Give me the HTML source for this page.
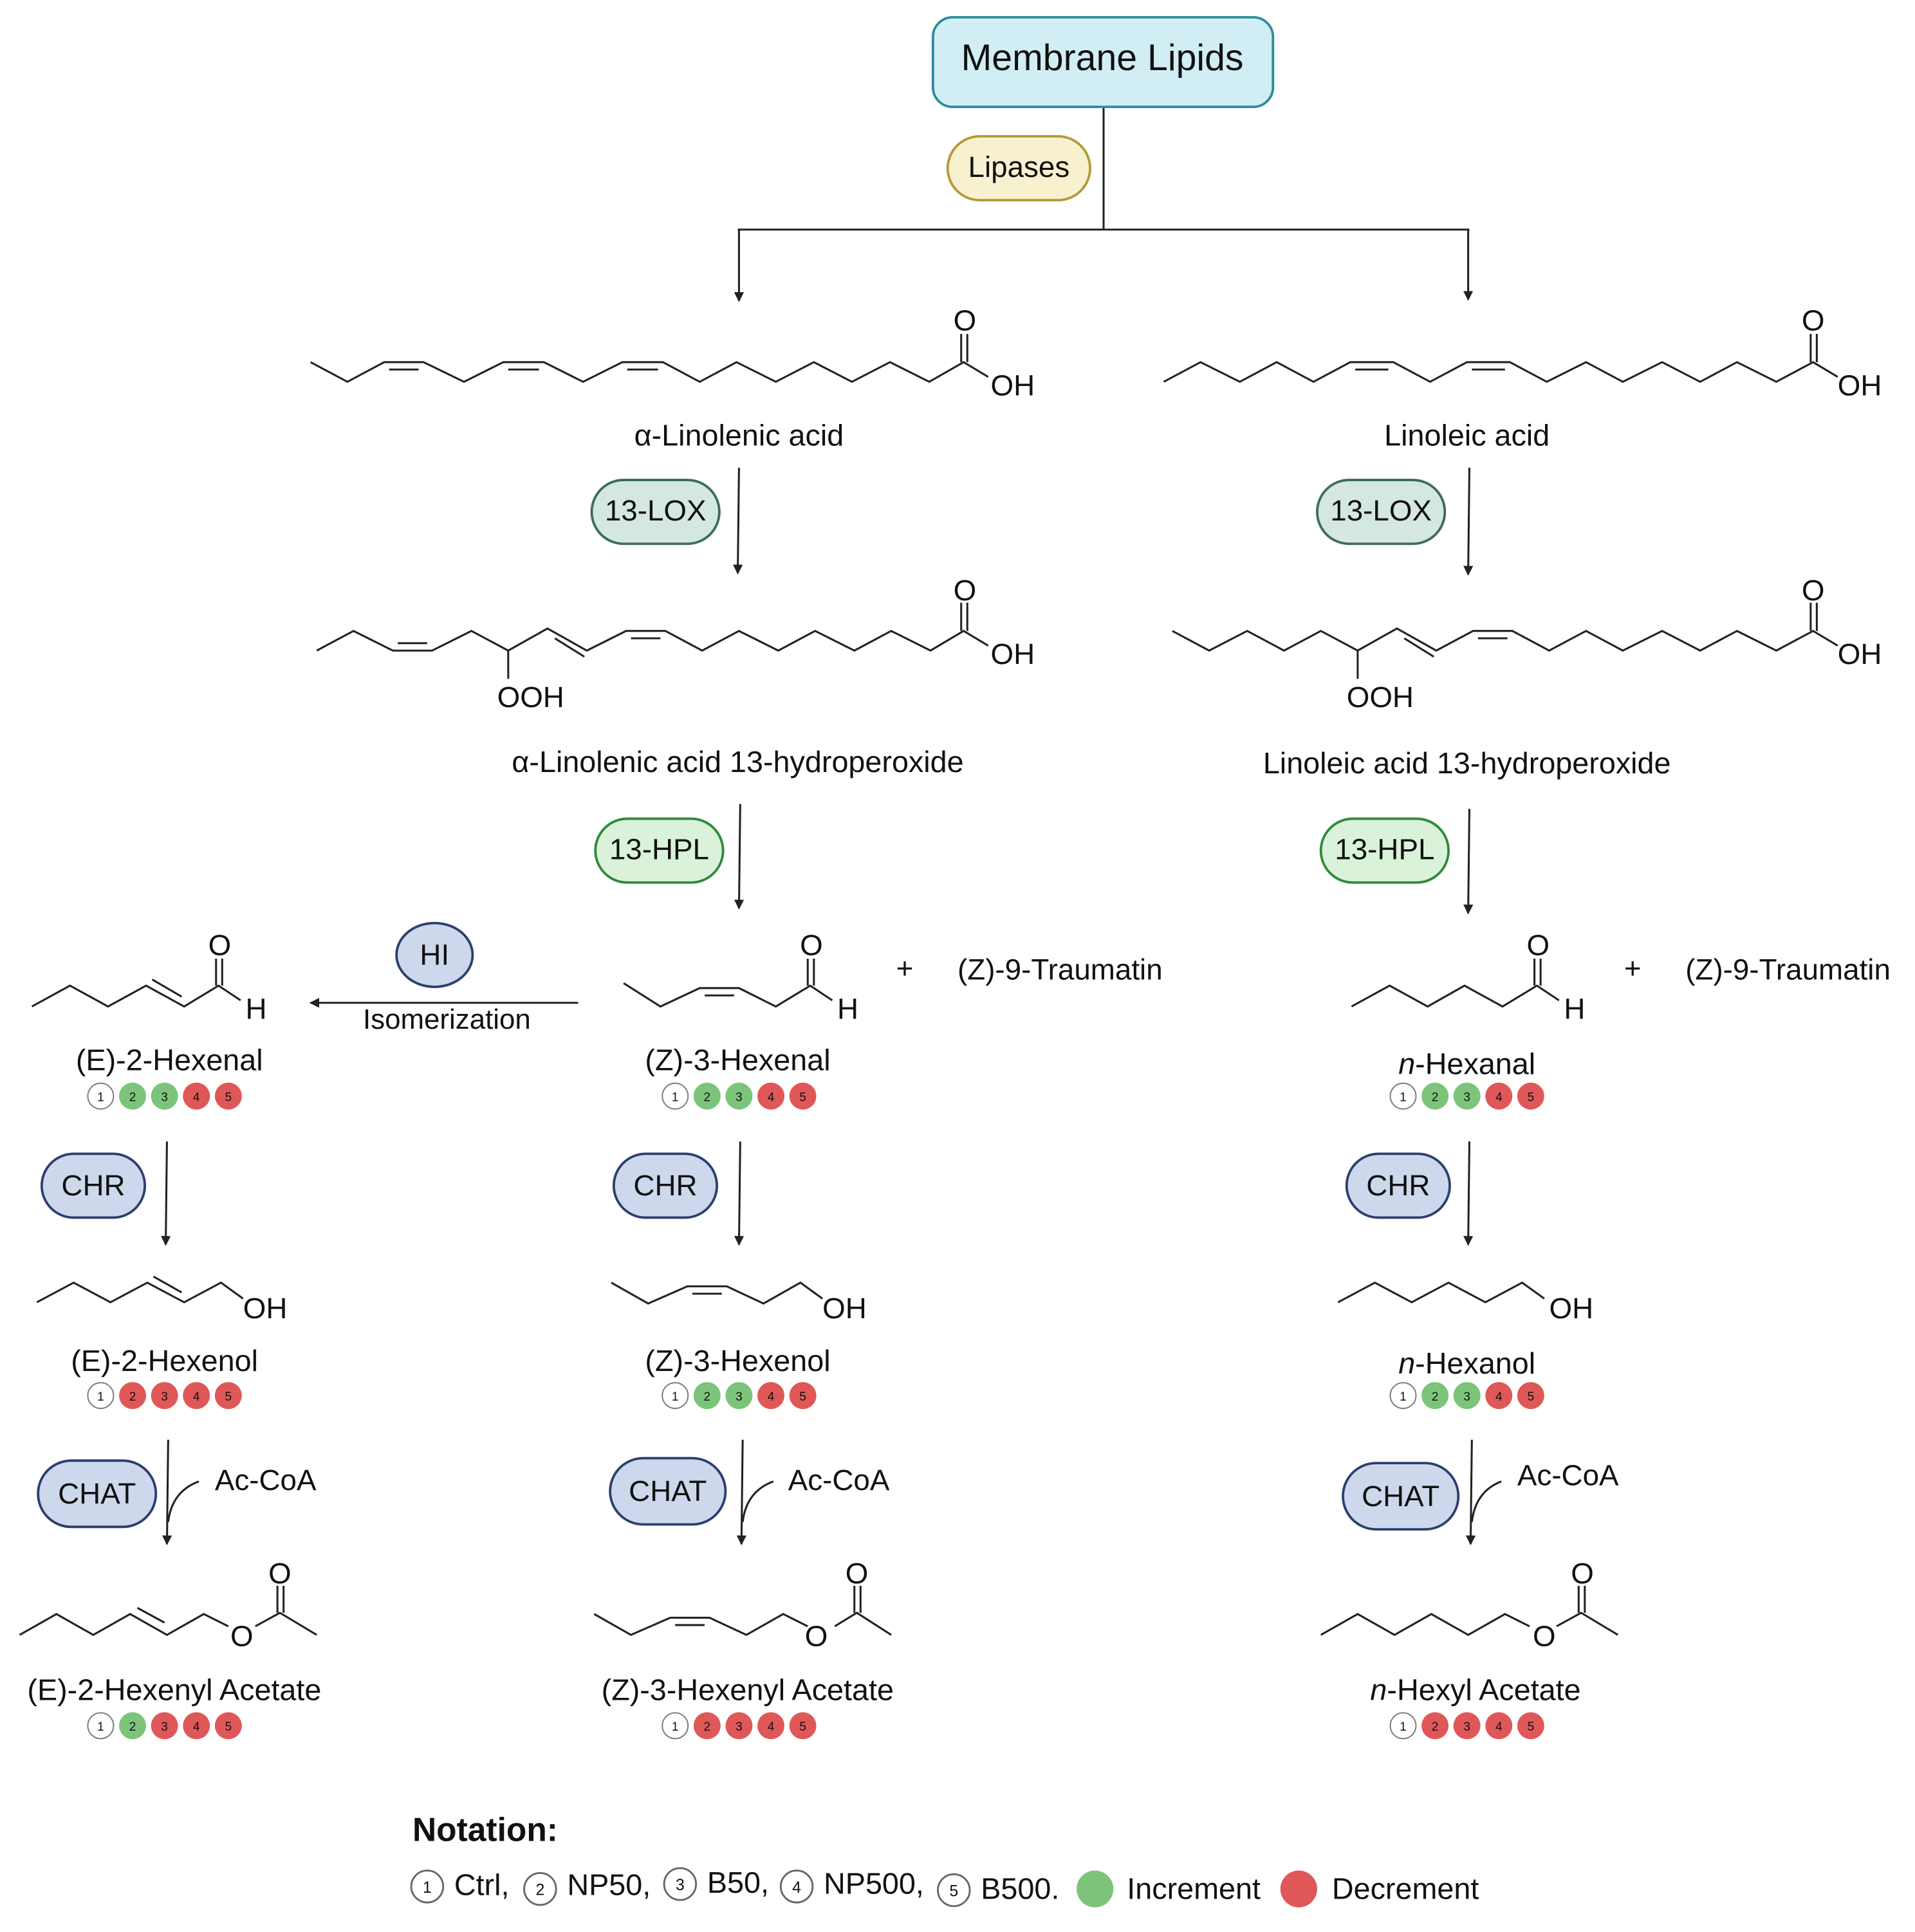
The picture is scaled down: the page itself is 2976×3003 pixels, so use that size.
<!DOCTYPE html>
<html><head><meta charset="utf-8"><style>html,body{margin:0;padding:0;background:#fff}svg{display:block}text{font-family:"Liberation Sans",Arial,sans-serif;fill:#111}</style></head>
<body>
<svg width="2976" height="3003" viewBox="0 0 1560 1574" xmlns="http://www.w3.org/2000/svg">
<defs>
<marker id="ah" markerWidth="8" markerHeight="8" refX="7" refY="4" orient="auto" markerUnits="userSpaceOnUse"><path d="M0,0 L8,4 L0,8 z" fill="#222"/></marker>
</defs>
<g stroke="#222" stroke-width="1.6" fill="none">
<line x1="899" y1="87" x2="899" y2="187"/>
<line x1="601" y1="187" x2="1197" y2="187"/>
<line x1="602" y1="187" x2="602" y2="245" marker-end="url(#ah)"/>
<line x1="1196" y1="187" x2="1196" y2="244" marker-end="url(#ah)"/>
<line x1="602" y1="381" x2="601" y2="467" marker-end="url(#ah)"/>
<line x1="1197" y1="381" x2="1196" y2="468" marker-end="url(#ah)"/>
<line x1="603" y1="655" x2="602" y2="740" marker-end="url(#ah)"/>
<line x1="1197" y1="659" x2="1196" y2="744" marker-end="url(#ah)"/>
<line x1="471" y1="817" x2="253" y2="817" marker-end="url(#ah)"/>
<line x1="136" y1="930" x2="135" y2="1014" marker-end="url(#ah)"/>
<line x1="603" y1="930" x2="602" y2="1014" marker-end="url(#ah)"/>
<line x1="1197" y1="930" x2="1196" y2="1014" marker-end="url(#ah)"/>
<line x1="137" y1="1173" x2="136" y2="1258" marker-end="url(#ah)"/>
<path d="M162,1207 Q140,1215 137,1240"/>
<line x1="605" y1="1173" x2="604" y2="1258" marker-end="url(#ah)"/>
<path d="M630,1207 Q608,1215 605,1240"/>
<line x1="1199" y1="1173" x2="1198" y2="1258" marker-end="url(#ah)"/>
<path d="M1223,1207 Q1202,1215 1199,1240"/>
</g>

<rect x="760" y="14" width="277" height="73" rx="16" fill="#d2eef5" stroke="#2d8c9c" stroke-width="2"/>
<text x="898" y="57" font-size="30" text-anchor="middle">Membrane Lipids</text>
<g stroke-width="2">
<rect x="772" y="111" width="116" height="52" rx="26" fill="#f7f1d0" stroke="#b39a35"/>
<rect x="482" y="391" width="104" height="52" rx="26" fill="#d5e7e1" stroke="#3d6b63"/>
<rect x="1073" y="391" width="104" height="52" rx="26" fill="#d5e7e1" stroke="#3d6b63"/>
<rect x="485" y="667" width="104" height="52" rx="26" fill="#daf2da" stroke="#2e8b3a"/>
<rect x="1076" y="667" width="104" height="52" rx="26" fill="#daf2da" stroke="#2e8b3a"/>
<ellipse cx="354" cy="778" rx="31" ry="26" fill="#cdd8ec" stroke="#2c3f6e"/>
<rect x="34" y="940" width="84" height="52" rx="26" fill="#cdd8ec" stroke="#2c3f6e"/>
<rect x="500" y="940" width="84" height="52" rx="26" fill="#cdd8ec" stroke="#2c3f6e"/>
<rect x="1097" y="940" width="84" height="52" rx="26" fill="#cdd8ec" stroke="#2c3f6e"/>
<rect x="31" y="1190" width="96" height="54" rx="27" fill="#cdd8ec" stroke="#2c3f6e"/>
<rect x="497" y="1188" width="94" height="54" rx="27" fill="#cdd8ec" stroke="#2c3f6e"/>
<rect x="1094" y="1192" width="94" height="54" rx="27" fill="#cdd8ec" stroke="#2c3f6e"/>
</g>
<g font-size="24" text-anchor="middle">
<text x="830" y="144">Lipases</text>
<text x="534" y="424">13-LOX</text>
<text x="1125" y="424">13-LOX</text>
<text x="537" y="700">13-HPL</text>
<text x="1128" y="700">13-HPL</text>
<text x="354" y="786">HI</text>
<text x="76" y="974">CHR</text>
<text x="542" y="974">CHR</text>
<text x="1139" y="974">CHR</text>
<text x="79" y="1225">CHAT</text>
<text x="544" y="1223">CHAT</text>
<text x="1141" y="1227">CHAT</text>
</g>

<g stroke="#222" stroke-width="1.6" fill="none">
<polyline points="253,295 283,311 313,295 345,295 378,311 410,295 443,295 475,311 507,295 540,295 570,311 600,295 632,311 663,295 694,311 725,295 757,311 785,295 805,307"/>
<line x1="317" y1="301" x2="341" y2="301"/><line x1="414" y1="301" x2="439" y2="301"/><line x1="511" y1="301" x2="536" y2="301"/>
<line x1="783" y1="295" x2="783" y2="272"/><line x1="788" y1="295" x2="788" y2="272"/>
<polyline points="948,311 978,295 1010,311 1040,295 1070,311 1100,295 1135,295 1165,311 1195,295 1230,295 1260,311 1292,295 1322,311 1354,295 1385,311 1415,295 1447,311 1477,295 1497,307"/>
<line x1="1104" y1="301" x2="1131" y2="301"/><line x1="1199" y1="301" x2="1226" y2="301"/>
<line x1="1475" y1="295" x2="1475" y2="272"/><line x1="1480" y1="295" x2="1480" y2="272"/>
<polyline points="258,530 288,514 320,530 352,530 384,514 414,530 446,512 478,530 510,514 542,514 572,530 602,514 634,530 664,514 696,530 726,514 758,530 785,514 805,526"/>
<line x1="324" y1="524" x2="348" y2="524"/><line x1="452" y1="520" x2="476" y2="535"/><line x1="514" y1="520" x2="538" y2="520"/>
<line x1="414" y1="530" x2="414" y2="553"/>
<line x1="783" y1="514" x2="783" y2="491"/><line x1="788" y1="514" x2="788" y2="491"/>
<polyline points="955,514 985,530 1016,514 1046,530 1076,514 1106,530 1138,512 1170,530 1200,514 1232,514 1262,530 1292,514 1322,530 1354,514 1385,530 1415,514 1447,530 1477,514 1497,526"/>
<line x1="1144" y1="520" x2="1168" y2="535"/><line x1="1204" y1="520" x2="1228" y2="520"/>
<line x1="1106" y1="530" x2="1106" y2="553"/>
<line x1="1475" y1="514" x2="1475" y2="491"/><line x1="1480" y1="514" x2="1480" y2="491"/>
<polyline points="26,820 57,803 88,820 119,803 150,820 178,803 196,815"/>
<line x1="124" y1="798" x2="148" y2="812"/>
<line x1="176" y1="803" x2="176" y2="781"/><line x1="181" y1="803" x2="181" y2="781"/>
<polyline points="508,801 538,820 570,805 602,805 632,820 660,803 678,815"/>
<line x1="574" y1="811" x2="598" y2="811"/>
<line x1="658" y1="803" x2="658" y2="781"/><line x1="663" y1="803" x2="663" y2="781"/>
<polyline points="1101,820 1132,803 1163,820 1193,803 1224,820 1252,803 1270,815"/>
<line x1="1250" y1="803" x2="1250" y2="781"/><line x1="1255" y1="803" x2="1255" y2="781"/>
<polyline points="30,1061 60,1045 90,1061 120,1045 150,1061 180,1045 198,1058"/>
<line x1="125" y1="1040" x2="148" y2="1053"/>
<polyline points="498,1045 528,1062 560,1048 592,1048 622,1062 652,1045 670,1058"/>
<line x1="564" y1="1054" x2="588" y2="1054"/>
<polyline points="1090,1061 1120,1045 1150,1061 1180,1045 1210,1061 1240,1045 1258,1058"/>
<polyline points="16,1332 46,1315 76,1332 106,1315 136,1332 166,1315 186,1325"/>
<line x1="112" y1="1310" x2="134" y2="1322"/>
<polyline points="208,1325 228,1314 258,1332"/>
<line x1="226" y1="1314" x2="226" y2="1292"/><line x1="231" y1="1314" x2="231" y2="1292"/>
<polyline points="484,1315 514,1332 546,1318 578,1318 608,1332 638,1315 658,1325"/>
<line x1="550" y1="1324" x2="574" y2="1324"/>
<polyline points="680,1325 698,1314 726,1332"/>
<line x1="696" y1="1314" x2="696" y2="1292"/><line x1="701" y1="1314" x2="701" y2="1292"/>
<polyline points="1076,1332 1106,1315 1136,1332 1166,1315 1196,1332 1226,1315 1246,1325"/>
<polyline points="1268,1325 1288,1314 1318,1332"/>
<line x1="1286" y1="1314" x2="1286" y2="1292"/><line x1="1291" y1="1314" x2="1291" y2="1292"/>
</g>

<g font-size="24">
<text x="786" y="269" text-anchor="middle">O</text><text x="807" y="322">OH</text>
<text x="1477" y="269" text-anchor="middle">O</text><text x="1497" y="322">OH</text>
<text x="786" y="489" text-anchor="middle">O</text><text x="807" y="541">OH</text>
<text x="405" y="576">OOH</text>
<text x="1477" y="489" text-anchor="middle">O</text><text x="1497" y="541">OH</text>
<text x="1097" y="576">OOH</text>
<text x="179" y="778" text-anchor="middle">O</text><text x="200" y="830">H</text>
<text x="661" y="778" text-anchor="middle">O</text><text x="682" y="830">H</text>
<text x="1253" y="778" text-anchor="middle">O</text><text x="1274" y="830">H</text>
<text x="198" y="1074">OH</text><text x="670" y="1074">OH</text><text x="1262" y="1074">OH</text>
<text x="228" y="1290" text-anchor="middle">O</text><text x="197" y="1341" text-anchor="middle">O</text>
<text x="698" y="1290" text-anchor="middle">O</text><text x="665" y="1341" text-anchor="middle">O</text>
<text x="1289" y="1290" text-anchor="middle">O</text><text x="1258" y="1341" text-anchor="middle">O</text>
<text x="730" y="797">+</text><text x="780" y="798">(Z)-9-Traumatin</text>
<text x="1323" y="797">+</text><text x="1373" y="798">(Z)-9-Traumatin</text>
<text x="175" y="1214">Ac-CoA</text><text x="642" y="1214">Ac-CoA</text><text x="1236" y="1210">Ac-CoA</text>
<text x="364" y="838" text-anchor="middle" font-size="23">Isomerization</text>
</g>
<g font-size="24.5" text-anchor="middle">
<text x="602" y="363">α-Linolenic acid</text>
<text x="1195" y="363">Linoleic acid</text>
<text x="601" y="629">α-Linolenic acid 13-hydroperoxide</text>
<text x="1195" y="630">Linoleic acid 13-hydroperoxide</text>
<text x="138" y="872">(E)-2-Hexenal</text>
<text x="601" y="872">(Z)-3-Hexenal</text>
<text x="1195" y="875"><tspan font-style="italic">n</tspan>-Hexanal</text>
<text x="134" y="1117">(E)-2-Hexenol</text>
<text x="601" y="1117">(Z)-3-Hexenol</text>
<text x="1195" y="1119"><tspan font-style="italic">n</tspan>-Hexanol</text>
<text x="142" y="1385">(E)-2-Hexenyl Acetate</text>
<text x="609" y="1385">(Z)-3-Hexenyl Acetate</text>
<text x="1202" y="1385"><tspan font-style="italic">n</tspan>-Hexyl Acetate</text>
</g>

<g font-size="10" text-anchor="middle">
<circle cx="82" cy="893" r="10.5" fill="#fff" stroke="#777"/><text x="82" y="897">1</text>
<circle cx="108" cy="893" r="11" fill="#7cc47a"/><text x="108" y="897">2</text>
<circle cx="134" cy="893" r="11" fill="#7cc47a"/><text x="134" y="897">3</text>
<circle cx="160" cy="893" r="11" fill="#e05757"/><text x="160" y="897">4</text>
<circle cx="186" cy="893" r="11" fill="#e05757"/><text x="186" y="897">5</text>
<circle cx="550" cy="893" r="10.5" fill="#fff" stroke="#777"/><text x="550" y="897">1</text>
<circle cx="576" cy="893" r="11" fill="#7cc47a"/><text x="576" y="897">2</text>
<circle cx="602" cy="893" r="11" fill="#7cc47a"/><text x="602" y="897">3</text>
<circle cx="628" cy="893" r="11" fill="#e05757"/><text x="628" y="897">4</text>
<circle cx="654" cy="893" r="11" fill="#e05757"/><text x="654" y="897">5</text>
<circle cx="1143" cy="893" r="10.5" fill="#fff" stroke="#777"/><text x="1143" y="897">1</text>
<circle cx="1169" cy="893" r="11" fill="#7cc47a"/><text x="1169" y="897">2</text>
<circle cx="1195" cy="893" r="11" fill="#7cc47a"/><text x="1195" y="897">3</text>
<circle cx="1221" cy="893" r="11" fill="#e05757"/><text x="1221" y="897">4</text>
<circle cx="1247" cy="893" r="11" fill="#e05757"/><text x="1247" y="897">5</text>
<circle cx="82" cy="1137" r="10.5" fill="#fff" stroke="#777"/><text x="82" y="1141">1</text>
<circle cx="108" cy="1137" r="11" fill="#e05757"/><text x="108" y="1141">2</text>
<circle cx="134" cy="1137" r="11" fill="#e05757"/><text x="134" y="1141">3</text>
<circle cx="160" cy="1137" r="11" fill="#e05757"/><text x="160" y="1141">4</text>
<circle cx="186" cy="1137" r="11" fill="#e05757"/><text x="186" y="1141">5</text>
<circle cx="550" cy="1137" r="10.5" fill="#fff" stroke="#777"/><text x="550" y="1141">1</text>
<circle cx="576" cy="1137" r="11" fill="#7cc47a"/><text x="576" y="1141">2</text>
<circle cx="602" cy="1137" r="11" fill="#7cc47a"/><text x="602" y="1141">3</text>
<circle cx="628" cy="1137" r="11" fill="#e05757"/><text x="628" y="1141">4</text>
<circle cx="654" cy="1137" r="11" fill="#e05757"/><text x="654" y="1141">5</text>
<circle cx="1143" cy="1137" r="10.5" fill="#fff" stroke="#777"/><text x="1143" y="1141">1</text>
<circle cx="1169" cy="1137" r="11" fill="#7cc47a"/><text x="1169" y="1141">2</text>
<circle cx="1195" cy="1137" r="11" fill="#7cc47a"/><text x="1195" y="1141">3</text>
<circle cx="1221" cy="1137" r="11" fill="#e05757"/><text x="1221" y="1141">4</text>
<circle cx="1247" cy="1137" r="11" fill="#e05757"/><text x="1247" y="1141">5</text>
<circle cx="82" cy="1406" r="10.5" fill="#fff" stroke="#777"/><text x="82" y="1410">1</text>
<circle cx="108" cy="1406" r="11" fill="#7cc47a"/><text x="108" y="1410">2</text>
<circle cx="134" cy="1406" r="11" fill="#e05757"/><text x="134" y="1410">3</text>
<circle cx="160" cy="1406" r="11" fill="#e05757"/><text x="160" y="1410">4</text>
<circle cx="186" cy="1406" r="11" fill="#e05757"/><text x="186" y="1410">5</text>
<circle cx="550" cy="1406" r="10.5" fill="#fff" stroke="#777"/><text x="550" y="1410">1</text>
<circle cx="576" cy="1406" r="11" fill="#e05757"/><text x="576" y="1410">2</text>
<circle cx="602" cy="1406" r="11" fill="#e05757"/><text x="602" y="1410">3</text>
<circle cx="628" cy="1406" r="11" fill="#e05757"/><text x="628" y="1410">4</text>
<circle cx="654" cy="1406" r="11" fill="#e05757"/><text x="654" y="1410">5</text>
<circle cx="1143" cy="1406" r="10.5" fill="#fff" stroke="#777"/><text x="1143" y="1410">1</text>
<circle cx="1169" cy="1406" r="11" fill="#e05757"/><text x="1169" y="1410">2</text>
<circle cx="1195" cy="1406" r="11" fill="#e05757"/><text x="1195" y="1410">3</text>
<circle cx="1221" cy="1406" r="11" fill="#e05757"/><text x="1221" y="1410">4</text>
<circle cx="1247" cy="1406" r="11" fill="#e05757"/><text x="1247" y="1410">5</text>
</g>

<text x="336" y="1500" font-size="27" font-weight="bold">Notation:</text>
<g font-size="24.5">
<circle cx="348" cy="1537" r="13" fill="#fff" stroke="#666" stroke-width="1.5"/><text x="348" y="1542" font-size="13" text-anchor="middle">1</text>
<text x="370" y="1544">Ctrl,</text>
<circle cx="440" cy="1539" r="13" fill="#fff" stroke="#666" stroke-width="1.5"/><text x="440" y="1544" font-size="13" text-anchor="middle">2</text>
<text x="462" y="1544">NP50,</text>
<circle cx="554" cy="1535" r="13" fill="#fff" stroke="#666" stroke-width="1.5"/><text x="554" y="1540" font-size="13" text-anchor="middle">3</text>
<text x="576" y="1542">B50,</text>
<circle cx="649" cy="1537" r="13" fill="#fff" stroke="#666" stroke-width="1.5"/><text x="649" y="1542" font-size="13" text-anchor="middle">4</text>
<text x="671" y="1543">NP500,</text>
<circle cx="777" cy="1540" r="13" fill="#fff" stroke="#666" stroke-width="1.5"/><text x="777" y="1545" font-size="13" text-anchor="middle">5</text>
<text x="799" y="1547">B500.</text>
<circle cx="892" cy="1539" r="15" fill="#7cc47a"/>
<text x="918" y="1547">Increment</text>
<circle cx="1058" cy="1539" r="15" fill="#e05757"/>
<text x="1085" y="1547">Decrement</text>
</g>
</svg>
</body></html>
